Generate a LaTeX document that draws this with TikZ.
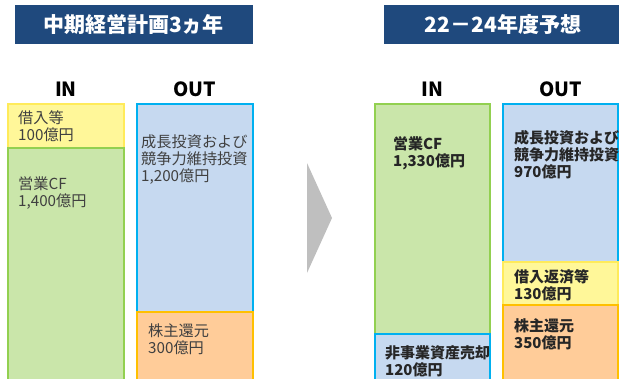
\documentclass[tikz,border=0pt]{standalone}
\usepackage{fontspec}
\setmainfont{Noto Sans CJK JP}
\usetikzlibrary{positioning}

\definecolor{titleblue}{RGB}{31,73,125}
\definecolor{cffill}{RGB}{202,230,170}
\definecolor{cfline}{RGB}{146,208,80}
\definecolor{invfill}{RGB}{198,217,240}
\definecolor{invline}{RGB}{0,176,240}
\definecolor{debtfill}{RGB}{255,247,153}
\definecolor{debtline}{RGB}{255,235,90}
\definecolor{retfill}{RGB}{255,204,153}
\definecolor{retline}{RGB}{255,192,0}
\definecolor{arrowgray}{RGB}{191,191,191}
\definecolor{textgray}{RGB}{64,64,64}

\begin{document}
\begin{tikzpicture}[x=1pt, y=-1pt,
  box/.style={draw, line width=2pt, outer sep=0pt, inner sep=0pt, minimum width=116pt},
  cf/.style={box, fill=cffill, draw=cfline},
  inv/.style={box, fill=invfill, draw=invline},
  debt/.style={box, fill=debtfill, draw=debtline},
  ret/.style={box, fill=retfill, draw=retline},
  txt/.style={align=left, inner sep=0pt, text=textgray, font=\fontsize{15.2}{17}\selectfont},
  btxt/.style={txt, text=black!85, font=\fontsize{15}{17}\selectfont\bfseries},
  head/.style={inner sep=0pt, font=\fontsize{19.5}{19.5}\selectfont\bfseries},
  title/.style={fill=titleblue, text=white, inner sep=0pt, minimum width=238pt, minimum height=39pt, font=\fontsize{21}{21}\selectfont\bfseries}]
\useasboundingbox (0,0) rectangle (619,378);

% Titles
\node[title] (ltitle) at (133.5,24.5) {中期経営計画3ヵ年};
\node[title] (rtitle) at (503,24.5) {22－24年度予想};

% Left: IN
\node[debt, anchor=north west, minimum height=44pt] (lborrow) at (8,104) {};
\node[cf, below=0pt of lborrow, minimum height=234pt] (lcf) {};
% Left: OUT
\node[inv, anchor=north west, minimum height=208pt] (linvest) at (137,104) {};
\node[ret, below=0pt of linvest, minimum height=70pt] (lreturn) {};

% Right: IN
\node[cf, anchor=north west, minimum width=115pt, minimum height=230pt] (rcf) at (375,104) {};
\node[inv, below=0pt of rcf, minimum width=115pt, minimum height=48pt] (rsale) {};
% Right: OUT
\node[inv, anchor=north west, minimum width=115pt, minimum height=158pt] (rinvest) at (503,104) {};
\node[debt, below=0pt of rinvest, minimum width=115pt, minimum height=43pt] (rrepay) {};
\node[ret, below=0pt of rrepay, minimum width=115pt, minimum height=77pt] (rreturn) {};

% Column heads
\node[head, above=7pt of lborrow.north] (lin) {IN};
\node[head, above=7pt of linvest.north] (lout) {OUT};
\node[head, above=7pt of rcf.north] (rin) {IN};
\node[head, above=7pt of rinvest.north] (rout) {OUT};

% Texts
\node[txt, below right=6.5pt and 10pt of lborrow.north west] (lborrowtxt) {借入等\\100億円};
\node[txt, below right=28.5pt and 10pt of lcf.north west] (lcftxt) {営業CF\\1,400億円};
\node[txt, below right=31pt and 4pt of linvest.north west] (linvesttxt) {成長投資および\\競争力維持投資\\1,200億円};
\node[txt, below right=11.5pt and 11pt of lreturn.north west] (lreturntxt) {株主還元\\300億円};
\node[btxt, below right=32pt and 18pt of rcf.north west] (rcftxt) {営業CF\\1,330億円};
\node[btxt, below right=11pt and 10pt of rsale.north west] (rsaletxt) {非事業資産売却\\120億円};
\node[btxt, below right=26pt and 11pt of rinvest.north west] (rinvesttxt) {成長投資および\\競争力維持投資\\970億円};
\node[btxt, below right=7pt and 11pt of rrepay.north west] (rrepaytxt) {借入返済等\\130億円};
\node[btxt, below right=13pt and 11pt of rreturn.north west] (rreturntxt) {株主還元\\350億円};

% Arrow
\fill[arrowgray] (307,163) -- (332,218) -- (307,273) -- cycle;
\end{tikzpicture}
\end{document}
